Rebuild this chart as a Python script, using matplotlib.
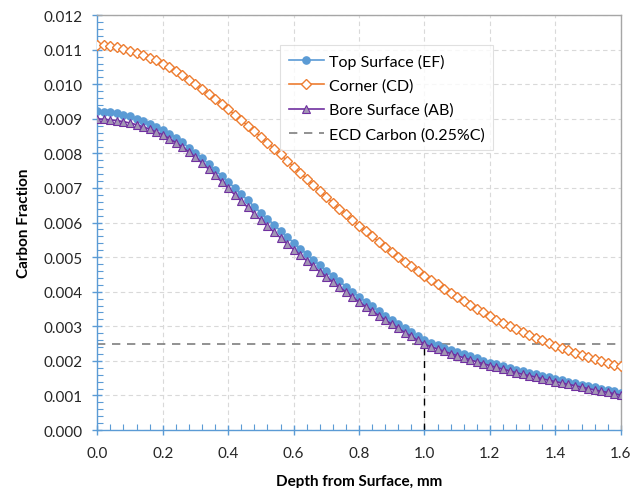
import matplotlib
matplotlib.use("Agg")
from matplotlib import pyplot as plt
from matplotlib.ticker import MultipleLocator, FormatStrFormatter
import numpy as np

plt.rcParams["font.family"] = ["Lato", "DejaVu Sans"]

# depth from surface, mm (0.02 mm steps)
depth = np.round(np.arange(81) * 0.02, 2)

# carbon fraction values, x1e-3
top_surface = [
    9.22, 9.21, 9.19, 9.16, 9.12, 9.07, 9.01, 8.94, 8.86, 8.77,
    8.68, 8.57, 8.45, 8.32, 8.17, 8.02, 7.86, 7.69, 7.52, 7.35,
    7.18, 7.00, 6.82, 6.64, 6.46, 6.28, 6.11, 5.94, 5.76, 5.59,
    5.42, 5.25, 5.09, 4.92, 4.76, 4.60, 4.45, 4.30, 4.15, 4.00,
    3.85, 3.71, 3.58, 3.44, 3.31, 3.18, 3.06, 2.94, 2.83, 2.71,
    2.60, 2.52, 2.45, 2.38, 2.31, 2.25, 2.19, 2.13, 2.07, 2.01,
    1.95, 1.90, 1.85, 1.80, 1.75, 1.70, 1.66, 1.61, 1.57, 1.52,
    1.48, 1.44, 1.40, 1.35, 1.31, 1.27, 1.23, 1.19, 1.15, 1.12,
    1.08,
]
corner = [
    11.13, 11.13, 11.11, 11.07, 11.03, 10.97, 10.91, 10.84, 10.77, 10.69,
    10.60, 10.49, 10.38, 10.26, 10.13, 10.00, 9.86, 9.72, 9.58, 9.43,
    9.28, 9.12, 8.96, 8.80, 8.64, 8.48, 8.31, 8.14, 7.97, 7.79,
    7.62, 7.44, 7.27, 7.09, 6.91, 6.74, 6.57, 6.40, 6.24, 6.07,
    5.91, 5.75, 5.60, 5.45, 5.30, 5.15, 5.01, 4.87, 4.73, 4.59,
    4.46, 4.33, 4.21, 4.09, 3.97, 3.85, 3.73, 3.62, 3.51, 3.40,
    3.29, 3.19, 3.10, 3.01, 2.92, 2.83, 2.75, 2.67, 2.59, 2.51,
    2.44, 2.37, 2.30, 2.23, 2.16, 2.10, 2.04, 1.99, 1.94, 1.89,
    1.84,
]
bore_surface = [
    9.00, 8.99, 8.97, 8.95, 8.92, 8.88, 8.83, 8.77, 8.70, 8.62,
    8.54, 8.43, 8.31, 8.18, 8.04, 7.89, 7.72, 7.55, 7.37, 7.18,
    6.99, 6.81, 6.62, 6.44, 6.25, 6.07, 5.90, 5.73, 5.56, 5.39,
    5.22, 5.06, 4.90, 4.74, 4.58, 4.43, 4.28, 4.13, 3.99, 3.84,
    3.70, 3.57, 3.44, 3.31, 3.18, 3.06, 2.94, 2.82, 2.71, 2.59,
    2.48, 2.41, 2.34, 2.28, 2.21, 2.15, 2.09, 2.03, 1.97, 1.92,
    1.86, 1.81, 1.76, 1.71, 1.66, 1.61, 1.57, 1.53, 1.48, 1.44,
    1.40, 1.36, 1.32, 1.28, 1.24, 1.20, 1.16, 1.12, 1.09, 1.05,
    1.01,
]
ecd_carbon = 0.0025
ecd_depth = 1.0

top_surface = np.array(top_surface) * 1e-3
corner = np.array(corner) * 1e-3
bore_surface = np.array(bore_surface) * 1e-3

fig = plt.figure(figsize=(6.4, 4.89), dpi=100)
ax = fig.add_axes([0.152, 0.1186, 0.818, 0.8484])

ax.plot(depth, top_surface, color="#5B9BD5", lw=1.2, marker="o", ms=5.2,
        mec="#5B9BD5", mfc="#5B9BD5", label="Top Surface (EF)", zorder=3)
ax.plot(depth, corner, color="#ED7D31", lw=1.2, marker="D", ms=5.5,
        mec="#ED7D31", mfc="white", mew=1.0, label="Corner (CD)", zorder=3)
ax.plot(depth, bore_surface, color="#7030A0", lw=1.2, marker="^", ms=6.0,
        mec="#7030A0", mfc="#A397B5", mew=0.8, label="Bore Surface (AB)", zorder=3)
ax.plot([depth[0], depth[-1]], [ecd_carbon, ecd_carbon], color="#7F7F7F",
        lw=1.2, ls=(0, (5, 4)), label="ECD Carbon (0.25%C)", zorder=2)
ax.plot([ecd_depth, ecd_depth], [0, ecd_carbon], color="black", lw=1.0,
        ls=(0, (5, 4)), zorder=2)

ax.set_xlim(0, 1.6)
ax.set_ylim(0, 0.012)
ax.xaxis.set_major_locator(MultipleLocator(0.2))
ax.xaxis.set_minor_locator(MultipleLocator(0.04))
ax.yaxis.set_major_locator(MultipleLocator(0.001))
ax.yaxis.set_minor_locator(MultipleLocator(0.0002))
ax.xaxis.set_major_formatter(FormatStrFormatter("%.1f"))
ax.yaxis.set_major_formatter(FormatStrFormatter("%.3f"))

ax.grid(True, which="major", color="#D9D9D9", ls=(0, (4, 3)), lw=0.8)
ax.set_axisbelow(True)

for side in ["left", "bottom"]:
    ax.spines[side].set_color("#5B9BD5")
    ax.spines[side].set_linewidth(1.0)
for side in ["top", "right"]:
    ax.spines[side].set_color("#A6A6A6")
    ax.spines[side].set_linewidth(1.0)

ax.tick_params(which="major", direction="inout", length=7, width=1.0,
               color="#5B9BD5", labelsize=11, labelcolor="#262626")
ax.tick_params(which="minor", direction="in", length=4, width=0.8,
               color="#5B9BD5")
ax.tick_params(axis="y", which="major", pad=7)
ax.tick_params(axis="x", which="major", pad=8)

ax.set_xlabel("Depth from Surface, mm", fontsize=11, fontweight="bold",
              labelpad=10)
ax.set_ylabel("Carbon Fraction", fontsize=11, fontweight="bold", labelpad=9)

leg = ax.legend(loc="upper left", bbox_to_anchor=(0.34, 0.94),
                fontsize=11.5, frameon=True, fancybox=False,
                edgecolor="#D9D9D9", handlelength=2.2, borderpad=0.55,
                labelspacing=0.62, handletextpad=0.3, borderaxespad=0.3)
leg.get_frame().set_linewidth(0.8)

fig.savefig("out.png", dpi=100)
